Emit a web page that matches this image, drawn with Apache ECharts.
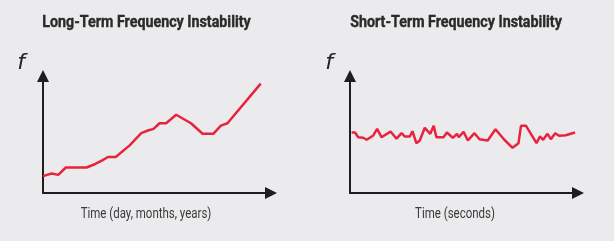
<!DOCTYPE html>
<html>
<head>
<meta charset="utf-8">
<script src="https://cdn.jsdelivr.net/npm/echarts@6/dist/echarts.min.js"></script>
<style>
html,body{margin:0;padding:0;background:#ebebed;}
#chart{width:614px;height:241px;}
</style>
</head>
<body>
<div id="chart"></div>
<script>
// Long-term: time (arbitrary units 0-100) vs frequency (arbitrary units 0-100)
const longTime = [0, 3.8, 6.7, 10.0, 19.1, 22.7, 25.6, 28.5, 31.9, 38.0, 43.1, 46.0, 48.5, 51.1, 54.0, 58.4, 64.9, 70.0, 74.7, 78.0, 80.9, 95.5];
const longFreq = [14.4, 16.7, 15.5, 21.8, 21.8, 24.6, 27.4, 30.8, 30.8, 40.7, 51.1, 53.4, 54.8, 59.6, 59.6, 66.9, 59.6, 50.6, 50.6, 57.6, 59.6, 93.5];

// Short-term: time (seconds, arbitrary units) vs frequency
const shortTime = [0.7, 2.2, 3.6, 5.8, 7.3, 10.2, 11.9, 13.8, 17.8, 20.4, 22.6, 24.0, 26.2, 27.4, 29.1, 30.6, 32.8, 35.2, 36.7, 37.9, 41.0, 42.5, 45.1, 46.9, 47.7, 49.8, 51.7, 54.6, 56.8, 60.4, 63.8, 67.7, 71.3, 73.9, 75.0, 77.2, 81.8, 83.3, 84.7, 86.6, 88.1, 90.0, 91.7, 94.6, 98.7];
const shortFreq = [51.7, 51.7, 47.7, 47.2, 45.5, 49.2, 54.8, 47.7, 52.5, 46.4, 51.1, 48.3, 48.3, 52.8, 42.6, 44.9, 55.7, 50.6, 57.4, 47.7, 47.7, 51.7, 47.2, 50.6, 47.7, 52.3, 44.9, 51.1, 46.0, 44.9, 54.5, 45.5, 38.6, 42.6, 57.4, 57.4, 42.6, 48.3, 45.5, 50.6, 46.0, 51.1, 48.9, 49.4, 51.7];

const panelTitles = ['Long-Term Frequency Instability', 'Short-Term Frequency Instability'];
const xAxisNames = ['Time (day, months, years)', 'Time (seconds)'];
const yAxisName = 'f';

const zip = (a, b) => a.map((v, i) => [v, b[i]]);

const axisLineStyle = {
  show: true,
  onZero: false,
  symbol: ['none', 'triangle'],
  symbolSize: [12, 12],
  lineStyle: { color: '#1e1e1e', width: 2 }
};

function xAxisCfg(gi) {
  return {
    type: 'value', gridIndex: gi, min: 0, max: 100,
    axisLine: axisLineStyle, axisTick: { show: false },
    axisLabel: { show: false }, splitLine: { show: false }
  };
}
function yAxisCfg(gi) {
  return {
    type: 'value', gridIndex: gi, min: 0, max: 100,
    axisLine: axisLineStyle, axisTick: { show: false },
    axisLabel: { show: false }, splitLine: { show: false }
  };
}

const font = 'Roboto, "Noto Sans", sans-serif';
const textStyleTitle = { fontFamily: font, fontWeight: 'bold', fontSize: 17, fill: '#2a2a2a', stroke: '#2a2a2a', lineWidth: 0.4, textAlign: 'center', textVerticalAlign: 'middle' };
const textStyleLabel = { fontFamily: font, fontSize: 14, fill: '#3a3a3a', textAlign: 'center', textVerticalAlign: 'middle' };
const textStyleF = { fontFamily: '"DejaVu Sans", sans-serif', fontStyle: 'italic', fontSize: 22, fill: '#222', textAlign: 'center', textVerticalAlign: 'middle' };

const chart = echarts.init(document.getElementById('chart'), null, { renderer: 'canvas' });
chart.setOption({
  backgroundColor: '#ebebed',
  animation: false,
  grid: [
    { left: 43, top: 76, width: 228, height: 117 },
    { left: 350, top: 76, width: 228, height: 117 }
  ],
  xAxis: [xAxisCfg(0), xAxisCfg(1)],
  yAxis: [yAxisCfg(0), yAxisCfg(1)],
  series: [
    { type: 'line', xAxisIndex: 0, yAxisIndex: 0, data: zip(longTime, longFreq), showSymbol: false,
      lineStyle: { color: '#e8233e', width: 2.5 } },
    { type: 'line', xAxisIndex: 1, yAxisIndex: 1, data: zip(shortTime, shortFreq), showSymbol: false,
      lineStyle: { color: '#e8233e', width: 2.5 } }
  ],
  graphic: [
    { type: 'text', x: 146.5, y: 23, scaleX: 0.84, style: Object.assign({ text: panelTitles[0] }, textStyleTitle) },
    { type: 'text', x: 456, y: 23, scaleX: 0.84, style: Object.assign({ text: panelTitles[1] }, textStyleTitle) },
    { type: 'text', x: 146, y: 214, scaleX: 0.82, style: Object.assign({ text: xAxisNames[0] }, textStyleLabel) },
    { type: 'text', x: 455, y: 214, scaleX: 0.82, style: Object.assign({ text: xAxisNames[1] }, textStyleLabel) },
    { type: 'text', x: 21, y: 63, style: Object.assign({ text: yAxisName }, textStyleF) },
    { type: 'text', x: 329, y: 63, style: Object.assign({ text: yAxisName }, textStyleF) }
  ]
});
</script>
</body>
</html>
